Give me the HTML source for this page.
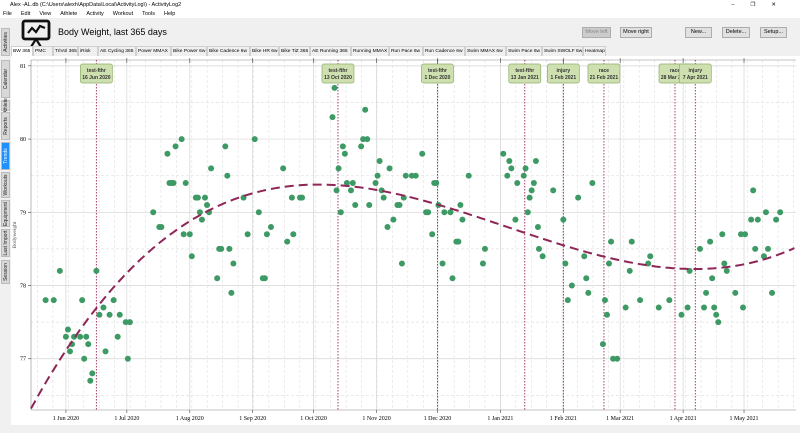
<!DOCTYPE html>
<html><head><meta charset="utf-8">
<style>
*{margin:0;padding:0;box-sizing:border-box}
body{width:800px;height:433px;overflow:hidden;background:#f0f0f0;font-family:"Liberation Sans",sans-serif;position:relative}
.abs{position:absolute}
.menu span{margin-right:9px}
.btn{position:absolute;top:27px;height:11px;border:1px solid #adadad;background:#e1e1e1;font-size:5.5px;text-align:center;line-height:9px;color:#000}
.tab{position:absolute;top:46px;height:10px;font-size:4.9px;line-height:10px;color:#000;white-space:nowrap;overflow:hidden;border:1px solid #d0d0d0;border-bottom:none;padding-left:1px;background:#f0f0f0}
.vtab{position:absolute;left:1px;width:9px;background:#d8d8d8;border:1px solid #bbb;font-size:5px;color:#222}
.vtab span{position:absolute;left:50%;top:50%;transform:translate(-50%,-50%) rotate(-90deg);white-space:nowrap}
</style></head><body>
<div class="abs" style="left:0;top:0;width:800px;height:10px;background:#fff;font-size:5.5px;line-height:10px;padding-left:10px">Alex -AL.db (C:\Users\alexh\AppData\Local\ActivityLog\) - ActivityLog2
<span style="position:absolute;right:8px;top:0;letter-spacing:16px">–❐✕</span></div>
<div class="abs menu" style="left:0;top:10px;width:800px;height:8px;background:#fff;font-size:5.5px;line-height:8px;padding-left:3px">
<span>File</span><span>Edit</span><span>View</span><span>Athlete</span><span>Activity</span><span>Workout</span><span>Tools</span><span>Help</span></div>
<svg class="abs" style="left:21px;top:19px" width="30" height="29" viewBox="0 0 30 29"><rect x="2" y="2" width="26" height="18" rx="2" fill="none" stroke="#111" stroke-width="2.8"/><polyline points="7,14 11,9 15,13 19,7 24,9" fill="none" stroke="#111" stroke-width="2.2"/><line x1="15" y1="20" x2="10" y2="28" stroke="#111" stroke-width="2.2"/><line x1="15" y1="20" x2="20" y2="28" stroke="#111" stroke-width="2.2"/></svg>
<div class="abs" style="left:58px;top:27px;font-size:9px">Body Weight, last 365 days</div>
<div class="btn" style="left:582px;width:29px;color:#888;background:#ccc">Move left</div>
<div class="btn" style="left:620px;width:32px">Move right</div>
<div class="btn" style="left:685px;width:27px">New...</div>
<div class="btn" style="left:722px;width:28px">Delete...</div>
<div class="btn" style="left:760px;width:27px">Setup...</div>
<div id="tabs"></div>
<div class="abs" style="left:0;top:18px;width:11px;height:415px;background:#f0f0f0"></div>
<div id="vtabs"></div>
<div class="abs" style="left:11px;top:56px;width:789px;height:369px;background:#fff"></div>
<svg id="chart" class="abs" style="left:0;top:0" width="800" height="433"></svg>
<script>
const tabNames=["BW 365","PMC","TriVol 365","iRisk","AE Cycling 365","Power MMAX","Bike Power 6w","Bike Cadence 6w","Bike HR 6w","Bike TiZ 365","AE Running 365","Running MMAX","Run Pace 6w","Run Cadence 6w","Swim MMAX 6w","Swim Pace 6w","Swim SWOLF 6w","Heatmap"];
const tabX=[11,33,53,78,98,136,171,207,250,279,310,351,389,423,465,506,542,583,606];
const tabsEl=document.getElementById('tabs');
tabNames.forEach((t,i)=>{const d=document.createElement('div');d.className='tab';d.style.left=tabX[i]+'px';d.style.width=(tabX[i+1]-tabX[i])+'px';d.textContent=t;
if(i==0){d.style.background='#fff';}

tabsEl.appendChild(d);});
const vt=[["Activities",28,56],["Calendar",60,98],["Athlete",100,111],["Reports",112,140],["Trends",142,170],["Workouts",172,198],["Equipment",200,227],["Last Import",229,257],["Session",260,284]];
const vEl=document.getElementById('vtabs');
vt.forEach(v=>{const d=document.createElement('div');d.className='vtab';d.style.top=v[1]+'px';d.style.height=(v[2]-v[1])+'px';
if(v[0]=='Trends'){d.style.background='#1e90ff';d.style.color='#fff';}
d.innerHTML='<span>'+v[0]+'</span>';

vEl.appendChild(d);});
</script>
<script>
// days since 1 Jun 2020
const days=[-10,-6,-3,0,1,2,3,4,7,8,9,10,11,12,13,15,16.5,18.5,19.5,21.5,23.5,25.5,26.5,29.5,31.5,30.5,43,46,47,50,51,52,53,54,57,58,59,61,62,64,65,66,67,68.5,69.5,70.5,71.5,74.5,75.5,76.5,78.5,79.5,80.5,81.5,82.5,87.5,89.5,93,95,97,98,99,101,107,109,112,
111.3,115.3,116.3,131.3,132.3,133.3,134.3,135.4,136.4,137.4,138.4,140.4,141.3,142.5,145.4,146.4,147.4,148.4,149.4,152.5,153.5,154.5,155.5,156.5,158.4,159.4,161.3,163.3,164.3,165.5,166.4,167.4,170.4,172.3,175.5,177.4,178.4,180.4,181.4,182.4,183.5,185.5,186.4,189.4,190.4,192.3,193.3,194.3,195.3,198.4,205.4,206.4,215.4,217.4,218.4,219.4,222.3,221.4,225.5,226.4,227.5,228.4,229.4,230.5,231.5,232.5,233,
234.8,240,245,246,247.2,249.2,252.3,255.3,256.3,257.3,259.3,264.5,265.5,266.5,267.5,268.5,269.5,271.5,275.7,277.7,278.7,282.8,286.8,287.8,292,297.2,303.2,306.2,307.2,312.3,314.3,315.3,317.3,318.3,319.3,320.3,321.3,323.3,324.3,325.5,329.7,332.5,333.5,334.5,337.5,338.5,339.5,340.8,343.8,344.8,345.8,347.8,349.8,351.8];
const weights=[77.8,77.8,78.2,77.3,77.4,77.1,77.2,77.3,77.3,77.8,77.0,77.3,77.2,76.7,76.8,78.2,77.6,77.7,77.1,77.6,77.8,77.3,77.6,77.5,77.5,77.0,79.0,78.8,78.8,79.8,79.4,79.4,79.4,79.9,80.0,78.7,79.4,78.7,78.4,79.2,79.2,79.0,78.9,79.2,79.1,79.0,79.6,78.1,78.5,78.5,79.9,79.5,78.5,77.9,78.3,79.2,78.7,80.0,79.0,78.1,78.1,78.7,78.8,79.6,78.6,78.7,
79.2,79.2,79.2,80.3,80.7,79.3,79.6,79.0,79.9,79.8,79.4,79.3,79.4,79.1,79.9,80.0,80.4,80.0,79.1,79.4,79.5,79.7,79.3,79.2,78.8,79.6,78.9,79.1,79.1,78.3,79.2,79.5,79.5,79.5,79.8,79.0,79.0,78.7,79.4,79.4,79.1,78.3,79.0,79.0,78.1,78.6,78.6,79.1,78.9,79.5,78.3,78.5,79.8,79.5,79.7,79.6,79.4,78.9,79.5,79.6,79.0,79.2,79.3,79.4,79.7,78.8,78.5,
78.4,79.3,78.9,78.3,77.8,78.0,79.2,78.4,78.1,77.9,79.4,77.2,77.8,77.6,78.3,78.6,77.0,77.0,77.7,78.2,78.6,77.8,78.3,78.4,77.7,77.8,77.6,77.7,78.2,78.5,77.7,77.9,78.6,78.1,77.7,77.6,77.5,78.7,78.3,78.2,77.9,78.7,77.7,78.7,78.9,79.3,78.5,78.9,78.4,79.0,78.5,77.9,78.9,79.0];
const yTicks=[77,78,79,80,81];
const xTickDays=[0,30,61,92,122,153,183,214,245,273,304,334];
const xTickLabels=["1 Jun 2020","1 Jul 2020","1 Aug 2020","1 Sep 2020","1 Oct 2020","1 Nov 2020","1 Dec 2020","1 Jan 2021","1 Feb 2021","1 Mar 2021","1 Apr 2021","1 May 2021"];
const eventDays=[15,134,183,226,245,265,300,310];
const eventNames=["test-fthr","test-fthr","test-fthr","test-fthr","injury","race","race","injury"];
const eventDates=["16 Jun 2020","13 Oct 2020","1 Dec 2020","13 Jan 2021","1 Feb 2021","21 Feb 2021","28 Mar 2021","7 Apr 2021"];

const X0=31,X1=796,Y0=60,Y1=410,D0=-17.2,D1=359.6,K0=76.3,K1=81.08;
const sx=d=>X0+(d-D0)/(D1-D0)*(X1-X0);
const sy=k=>Y1-(k-K0)/(K1-K0)*(Y1-Y0);
const svg=document.getElementById('chart');const NS='http://www.w3.org/2000/svg';
function mk(tag,attrs,parent){const e=document.createElementNS(NS,tag);for(const k in attrs)e.setAttribute(k,attrs[k]);(parent||svg).appendChild(e);return e;}
const grid=mk('g',{});
for(let k=76.5;k<=81;k+=0.5){const solid=Math.abs(k-Math.round(k))<0.01;
 mk('line',{x1:X0,x2:X1,y1:sy(k),y2:sy(k),stroke:solid?'#d4d4d4':'#e2e2e2','stroke-width':0.7,'stroke-dasharray':solid?'':'3,2'},grid);}
for(let d=-14;d<D1;d+=7.6){mk('line',{x1:sx(d),x2:sx(d),y1:Y0,y2:Y1,stroke:'#e0e0e0','stroke-width':0.6,'stroke-dasharray':'3,2'},grid);}
xTickDays.forEach(d=>mk('line',{x1:sx(d),x2:sx(d),y1:Y0,y2:Y1,stroke:'#d4d4d4','stroke-width':0.7},grid));
mk('line',{x1:X0,x2:X1,y1:Y0,y2:Y0,stroke:'#888','stroke-width':0.6});
mk('line',{x1:X0,x2:X0,y1:Y0,y2:Y1,stroke:'#888','stroke-width':0.6});
mk('line',{x1:X0,x2:X1,y1:Y1,y2:Y1,stroke:'#888','stroke-width':0.6});
yTicks.forEach(k=>{mk('line',{x1:X0-3,x2:X0,y1:sy(k),y2:sy(k),stroke:'#444','stroke-width':0.6});
 const t=mk('text',{x:X0-5,y:sy(k)+2,'font-size':6,'text-anchor':'end','font-family':'Liberation Serif, serif'});t.textContent=k;
 });
xTickDays.forEach((d,i)=>{mk('line',{x1:sx(d),x2:sx(d),y1:Y1,y2:Y1+3,stroke:'#444','stroke-width':0.6});
 mk('line',{x1:sx(d),x2:sx(d),y1:Y0-2,y2:Y0+3,stroke:'#444','stroke-width':0.6});
 const t=mk('text',{x:sx(d),y:Y1+10,'font-size':6,'text-anchor':'middle','font-family':'Liberation Serif, serif'});t.textContent=xTickLabels[i];
 });
const yl=mk('text',{x:16,y:235,'font-size':5.5,fill:'#555','text-anchor':'middle','font-family':'Liberation Serif, serif',transform:'rotate(-90 16 235)'});yl.textContent='Bodyweight';

eventDays.forEach((d,i)=>{const l=mk('line',{x1:sx(d),x2:sx(d),y1:Y0,y2:Y1,stroke:'#9c2a5c','stroke-width':0.9,'stroke-dasharray':'1.5,1.5'});
 });
const pts=mk('g',{});
days.forEach((d,i)=>{const c=mk('circle',{cx:sx(d),cy:sy(weights[i]),r:3,fill:'#3e9a64'},pts);
 });
(function(){const n=4;const A=[...Array(n)].map(()=>Array(n+1).fill(0));const s=200;
 days.forEach((d,i)=>{const t=d/s;const p=[1,t,t*t,t*t*t];for(let r=0;r<n;r++){for(let c=0;c<n;c++)A[r][c]+=p[r]*p[c];A[r][n]+=p[r]*weights[i];}});
 for(let i=0;i<n;i++){let m=i;for(let r=i+1;r<n;r++)if(Math.abs(A[r][i])>Math.abs(A[m][i]))m=r;[A[i],A[m]]=[A[m],A[i]];
  for(let r=0;r<n;r++)if(r!=i){const f=A[r][i]/A[i][i];for(let c=i;c<=n;c++)A[r][c]-=f*A[i][c];}}
 const co=A.map((r,i)=>r[n]/r[i]);let dstr='';
 for(let d=D0;d<=D1;d+=2){const t=d/s;const k=co[0]+co[1]*t+co[2]*t*t+co[3]*t*t*t;dstr+=(dstr?'L':'M')+sx(d).toFixed(1)+','+sy(k).toFixed(1);}
 const p=mk('path',{d:dstr,fill:'none',stroke:'#8e2657','stroke-width':2,'stroke-dasharray':'9,5'});
 })();
eventDays.forEach((d,i)=>{const g=mk('g',{});
 const x=sx(d);mk('rect',{x:x-16,y:64,width:32,height:19,rx:2,fill:'#cfe0b0',stroke:'#8fae6a','stroke-width':0.7},g);
 const t1=mk('text',{x:x,y:72,'font-size':5,'text-anchor':'middle',fill:'#333','font-weight':'bold'},g);t1.textContent=eventNames[i];
 const t2=mk('text',{x:x,y:79,'font-size':5,'text-anchor':'middle',fill:'#333','font-weight':'bold'},g);t2.textContent=eventDates[i];});
</script>
</body></html>
